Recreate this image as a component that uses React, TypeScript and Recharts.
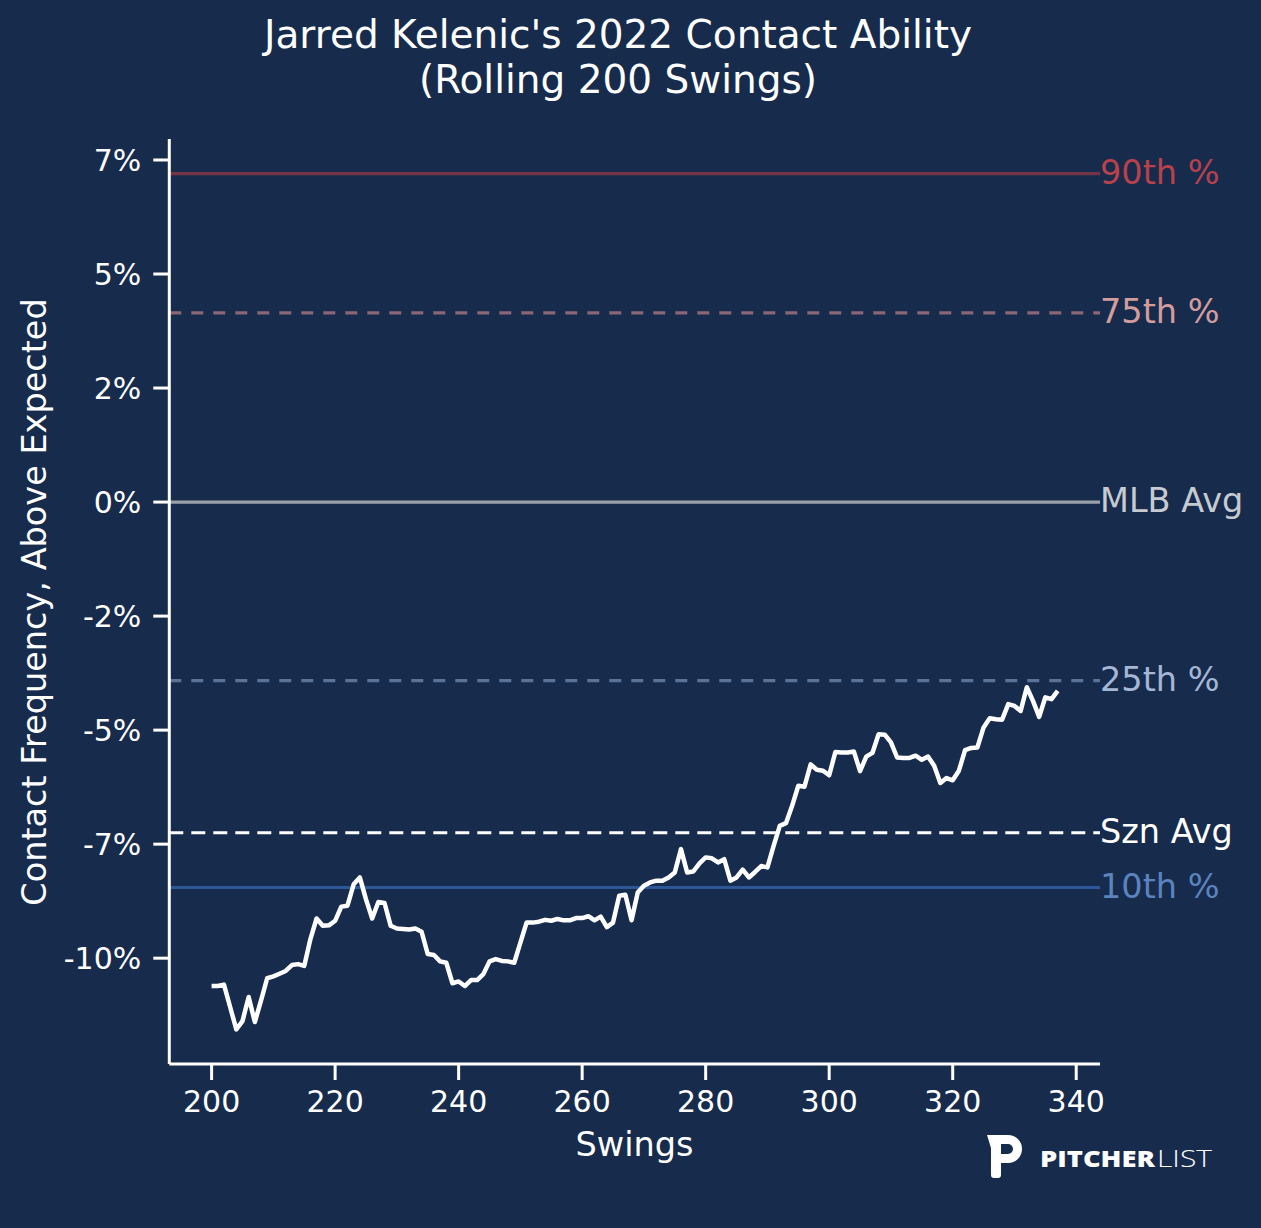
import React from 'react';
import { LineChart, Line, XAxis, YAxis, ReferenceLine } from 'recharts';

// ---- data ----
const SWING_START = 200;
const contactAboveExpected = [
  -10.61, -10.61, -10.58, -11.07, -11.56, -11.38, -10.85, -11.40, -10.93, -10.44,
  -10.40, -10.34, -10.28, -10.15, -10.13, -10.17, -9.58, -9.13, -9.29, -9.28,
  -9.18, -8.87, -8.85, -8.38, -8.23, -8.71, -9.13, -8.77, -8.79, -9.29,
  -9.35, -9.36, -9.37, -9.35, -9.42, -9.91, -9.93, -10.07, -10.10, -10.55,
  -10.51, -10.61, -10.48, -10.48, -10.35, -10.07, -10.02, -10.06, -10.07, -10.10,
  -9.66, -9.22, -9.22, -9.20, -9.16, -9.18, -9.14, -9.17, -9.17, -9.12,
  -9.12, -9.08, -9.17, -9.09, -9.32, -9.22, -8.63, -8.61, -9.17, -8.56,
  -8.41, -8.34, -8.30, -8.30, -8.23, -8.12, -7.61, -8.12, -8.10, -7.92,
  -7.79, -7.81, -7.90, -7.83, -8.30, -8.23, -8.06, -8.23, -8.11, -7.98,
  -8.01, -7.54, -7.10, -7.04, -6.66, -6.22, -6.24, -5.75, -5.87, -5.89,
  -5.99, -5.48, -5.49, -5.49, -5.47, -5.90, -5.58, -5.50, -5.09, -5.10,
  -5.27, -5.60, -5.61, -5.61, -5.56, -5.65, -5.58, -5.78, -6.16, -6.05,
  -6.10, -5.89, -5.44, -5.39, -5.38, -4.94, -4.74, -4.76, -4.77, -4.43,
  -4.47, -4.58, -4.06, -4.36, -4.71, -4.28, -4.32, -4.14,
];

const refNames = ['90th %', '75th %', 'MLB Avg', '25th %', 'Szn Avg', '10th %'];
const refValues = [7.2, 4.15, 0, -3.915, -7.25, -8.45];

const xTicks = [200, 220, 240, 260, 280, 300, 320, 340];
const yTicks = [-10, -7.5, -5, -2.5, 0, 2.5, 5, 7.5];
const yTickLabels = ['-10%', '-7%', '-5%', '-2%', '0%', '2%', '5%', '7%'];

const titleLines = ["Jarred Kelenic's 2022 Contact Ability", '(Rolling 200 Swings)'];
const xLabel = 'Swings';
const yLabel = 'Contact Frequency, Above Expected';

// ---- styles ----
const BG = '#172B4D';
const FONT = 'DejaVu Sans';
const refStyles: Record<string, { stroke: string; text: string; dash?: string }> = {
  '90th %': { stroke: '#763447', text: '#b7424b' },
  '75th %': { stroke: '#8a6677', text: '#d49d9d', dash: '12 10' },
  'MLB Avg': { stroke: '#9aa1ab', text: '#c6cad1' },
  '25th %': { stroke: '#5a7398', text: '#a5b7d5', dash: '12 10' },
  'Szn Avg': { stroke: '#ffffff', text: '#ffffff', dash: '14 8' },
  '10th %': { stroke: '#2c5798', text: '#5b83be' },
};

const data = contactAboveExpected.map((v, i) => ({ swing: SWING_START + i, value: v }));

function makeRefLabel(name: string) {
  return (props: any) => {
    const vb = props.viewBox || {};
    const x = (vb.x ?? 0) + (vb.width ?? 0);
    const y = vb.y ?? 0;
    return (
      <text x={x} y={y + 10.4} fill={refStyles[name].text} fontSize={33.5} fontFamily={FONT} textAnchor="start">
        {name}
      </text>
    );
  };
}

export default function App() {
  return (
    <div style={{ position: 'absolute', left: 0, top: 0, width: 1261, height: 1228, background: BG, overflow: 'hidden' }}>
      <LineChart
        width={1261}
        height={1228}
        data={data}
        margin={{ top: 139, right: 161, bottom: 104, left: 69.3 }}
      >
        <XAxis
          dataKey="swing"
          type="number"
          domain={[193.15, 343.85]}
          ticks={xTicks}
          interval={0}
          height={60}
          tickSize={16}
          tickMargin={11}
          axisLine={{ stroke: '#ffffff', strokeWidth: 3 }}
          tickLine={{ stroke: '#ffffff', strokeWidth: 3 }}
          tick={{ fill: '#ffffff', fontSize: 30, fontFamily: FONT }}
          allowDataOverflow
        />
        <YAxis
          type="number"
          domain={[-12.32, 7.96]}
          ticks={yTicks}
          interval={0}
          width={100}
          tickSize={16}
          tickMargin={12}
          axisLine={{ stroke: '#ffffff', strokeWidth: 3 }}
          tickLine={{ stroke: '#ffffff', strokeWidth: 3 }}
          tick={{ fill: '#ffffff', fontSize: 30, fontFamily: FONT }}
          tickFormatter={(v: number) => yTickLabels[yTicks.indexOf(v)] ?? ''}
          allowDataOverflow
        />
        {refNames.map((name, i) => (
          <ReferenceLine
            key={name}
            y={refValues[i]}
            stroke={refStyles[name].stroke}
            strokeWidth={3.2}
            strokeDasharray={refStyles[name].dash}
            label={makeRefLabel(name)}
          />
        ))}
        <Line
          type="linear"
          dataKey="value"
          stroke="#ffffff"
          strokeWidth={4.5}
          dot={false}
          activeDot={false}
          isAnimationActive={false}
          strokeLinejoin="round"
        />
      </LineChart>
      <svg
        width={1261}
        height={1228}
        style={{ position: 'absolute', left: 0, top: 0, pointerEvents: 'none' }}
      >
        <text x={618} y={48} textAnchor="middle" fill="#ffffff" fontSize={39} fontFamily={FONT}>
          {titleLines[0]}
        </text>
        <text x={618} y={93} textAnchor="middle" fill="#ffffff" fontSize={39} fontFamily={FONT}>
          {titleLines[1]}
        </text>
        <text x={634.5} y={1156} textAnchor="middle" fill="#ffffff" fontSize={33.5} fontFamily={FONT}>
          {xLabel}
        </text>
        <text
          transform="translate(46,602) rotate(-90)"
          x={0}
          y={0}
          textAnchor="middle"
          fill="#ffffff"
          fontSize={33.5}
          fontFamily={FONT}
        >
          {yLabel}
        </text>
        <path
          fillRule="evenodd"
          fill="#ffffff"
          d="M987,1135 H1008 A14,14 0 0 1 1008,1163 H1001 V1175 A3,3 0 0 1 998,1178 H994 A3,3 0 0 1 991,1175 V1148 Z M1001,1144 H1008 A5,5 0 0 1 1008,1154 H1001 Z"
        />
        <text x={1040} y={1167} fill="#ffffff" fontSize={23} fontWeight={800} fontFamily="Open Sans" textLength={115} lengthAdjust="spacingAndGlyphs">
          PITCHER
        </text>
        <text x={1157} y={1167} fill="#ffffff" fontSize={23} fontWeight={300} fontFamily="Open Sans" textLength={55} lengthAdjust="spacingAndGlyphs">
          LIST
        </text>
      </svg>
    </div>
  );
}
